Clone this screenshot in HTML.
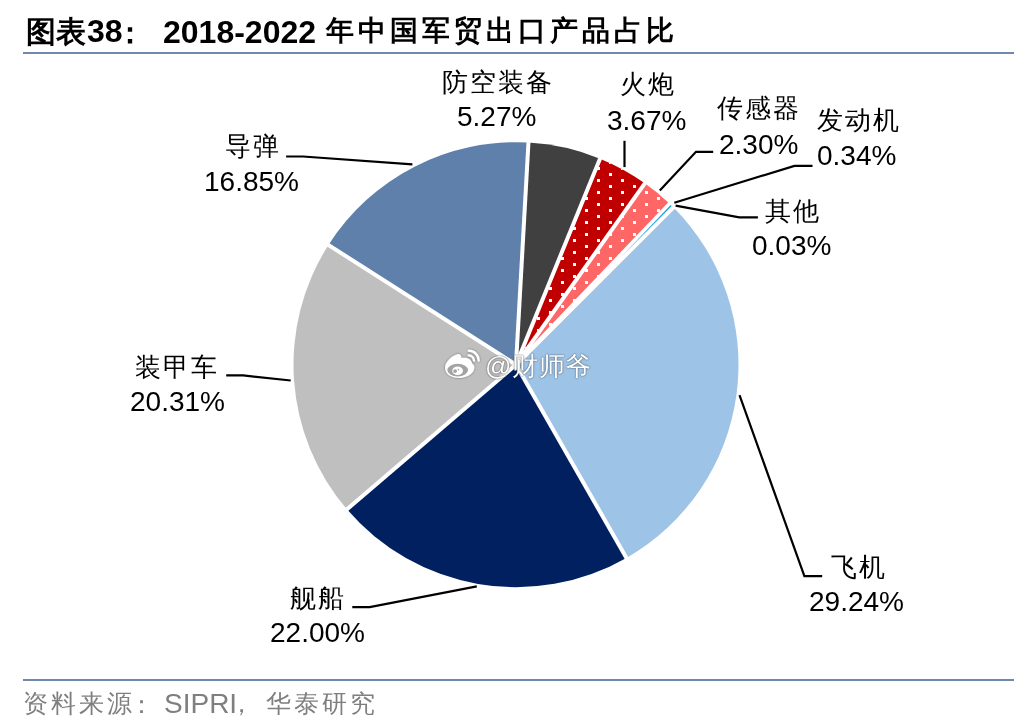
<!DOCTYPE html>
<html><head><meta charset="utf-8">
<style>
html,body{margin:0;padding:0;background:#fff;}
body{width:1036px;height:728px;position:relative;overflow:hidden;font-family:"Liberation Sans",sans-serif;}
div{position:absolute;line-height:1;white-space:nowrap;will-change:transform;}
.cn{font-size:26px;color:#000;letter-spacing:2px;}
.pc{font-size:28px;color:#000;}
.tcn{font-size:30px;font-weight:bold;color:#000;}
.tnum{font-size:32px;font-weight:bold;color:#000;}
.tcn2{font-size:28px;font-weight:bold;color:#000;letter-spacing:4px;}
.scn{font-size:25px;color:#7F7F7F;letter-spacing:3px;}
.slat{font-size:28px;color:#7F7F7F;}
.rule{left:23px;width:991px;height:2px;background:#6F89AC;}
svg{position:absolute;left:0;top:0;}
.wm{color:#fff;letter-spacing:0.6px;font-size:26px;text-shadow:0 0 2px rgba(0,0,0,.5),0 0 1px rgba(0,0,0,.45);}
</style></head><body>
<div class="rule" style="top:52px"></div>
<svg width="1036" height="728" viewBox="0 0 1036 728" style="">
<defs>
<pattern id="dots" patternUnits="userSpaceOnUse" width="24" height="12">
<rect x="9" y="5" width="3" height="3" fill="#fff"/>
<rect x="21" y="-1" width="3" height="3" fill="#fff"/>
<rect x="21" y="11" width="3" height="3" fill="#fff"/>
</pattern>
<filter id="sh" x="-20%" y="-20%" width="140%" height="140%"><feGaussianBlur in="SourceAlpha" stdDeviation="1"/><feComponentTransfer><feFuncA type="linear" slope="0.5"/></feComponentTransfer><feMerge><feMergeNode/><feMergeNode in="SourceGraphic"/></feMerge></filter>
</defs>
<path d="M516.00,364.70 L673.33,207.37 A222.5,222.5 0 0 1 626.40,557.88 Z" fill="#9DC3E6"/>
<path d="M516.00,364.70 L626.40,557.88 A222.5,222.5 0 0 1 346.95,509.36 Z" fill="#002060"/>
<path d="M516.00,364.70 L346.95,509.36 A222.5,222.5 0 0 1 328.46,244.97 Z" fill="#BFBFBF"/>
<path d="M516.00,364.70 L328.46,244.97 A222.5,222.5 0 0 1 528.45,142.55 Z" fill="#5F80AA"/>
<path d="M516.00,364.70 L528.45,142.55 A222.5,222.5 0 0 1 599.99,158.66 Z" fill="#404040"/>
<path d="M516.00,364.70 L599.99,158.66 A222.5,222.5 0 0 1 644.86,183.31 Z" fill="#C00000"/>
<path d="M516.00,364.70 L599.99,158.66 A222.5,222.5 0 0 1 644.86,183.31 Z" fill="url(#dots)"/>
<path d="M516.00,364.70 L644.86,183.31 A222.5,222.5 0 0 1 669.63,203.75 Z" fill="#FF6666"/>
<path d="M516.00,364.70 L644.86,183.31 A222.5,222.5 0 0 1 669.63,203.75 Z" fill="url(#dots)"/>
<path d="M516.00,364.70 L669.63,203.75 A222.5,222.5 0 0 1 673.03,207.07 Z" fill="#00B0F0"/>
<path d="M516.00,364.70 L673.03,207.07 A222.5,222.5 0 0 1 673.33,207.37 Z" fill="#2F5597"/>
<line x1="516.0" y1="364.7" x2="675.45" y2="205.25" stroke="#fff" stroke-width="4.0"/>
<line x1="516.0" y1="364.7" x2="627.88" y2="560.49" stroke="#fff" stroke-width="4.0"/>
<line x1="516.0" y1="364.7" x2="344.67" y2="511.31" stroke="#fff" stroke-width="4.0"/>
<line x1="516.0" y1="364.7" x2="325.93" y2="243.36" stroke="#fff" stroke-width="4.0"/>
<line x1="516.0" y1="364.7" x2="528.62" y2="139.55" stroke="#fff" stroke-width="4.0"/>
<line x1="516.0" y1="364.7" x2="601.12" y2="155.88" stroke="#fff" stroke-width="4.0"/>
<line x1="516.0" y1="364.7" x2="646.59" y2="180.86" stroke="#fff" stroke-width="4.0"/>
<line x1="516.0" y1="364.7" x2="671.70" y2="201.58" stroke="#fff" stroke-width="4.0"/>
<line x1="516.0" y1="364.7" x2="675.15" y2="204.95" stroke="#fff" stroke-width="4.0"/>
<polygon points="620.72,257.31 671.57,206.32 670.42,205.20" fill="#1FA5DC"/>
<polyline points="739.5,395.1 804.4,576.2 822.2,576.2" fill="none" stroke="#000" stroke-width="2.2" stroke-linejoin="miter"/>
<polyline points="476.8,586.3 369.7,607.1 352.3,607.1" fill="none" stroke="#000" stroke-width="2.2" stroke-linejoin="miter"/>
<polyline points="290.7,380.5 243.2,375.4 226.2,375.4" fill="none" stroke="#000" stroke-width="2.2" stroke-linejoin="miter"/>
<polyline points="412.4,164.3 303,156.5 286.1,156.5" fill="none" stroke="#000" stroke-width="2.2" stroke-linejoin="miter"/>
<polyline points="624.5,167.1 624.5,140.8" fill="none" stroke="#000" stroke-width="2.2" stroke-linejoin="miter"/>
<polyline points="659.8,190.5 696,151.8 713.2,151.8" fill="none" stroke="#000" stroke-width="2.2" stroke-linejoin="miter"/>
<polyline points="674.3,202.7 794.4,165.9 812.5,165.9" fill="none" stroke="#000" stroke-width="2.2" stroke-linejoin="miter"/>
<polyline points="675.6,205.6 739.3,217.3 757.9,217.3" fill="none" stroke="#000" stroke-width="2.2" stroke-linejoin="miter"/>
<g filter="url(#sh)">
<path d="M445,367.5 C445,362 452,355.5 457.5,354.2 C460,353.7 461.5,355.5 461.4,358.1 C464,357.6 467.5,357.8 469.2,359.1 C471,360.5 471.8,362 472.4,363.8 C474,365 474.6,366.5 474.4,368 C474,373 468,377.9 459,377.9 C451,377.9 445,374 445,367.5 Z" fill="#fff"/>
<ellipse cx="457.7" cy="370.1" rx="10.4" ry="6.3" fill="#a3a3a3"/>
<ellipse cx="457.6" cy="370.8" rx="5.4" ry="4.2" fill="#fff"/>
<circle cx="455.1" cy="371.1" r="1.9" fill="#a3a3a3"/>
<circle cx="458.3" cy="369.6" r="0.8" fill="#a3a3a3"/>
<path d="M468.7,350.7 A10,10 0 0 1 478.7,360.7" fill="none" stroke="#fff" stroke-width="2.3" stroke-linecap="round"/>
<path d="M468.7,355.4 A5.3,5.3 0 0 1 474,360.7" fill="none" stroke="#fff" stroke-width="2.3" stroke-linecap="round"/>
</g>
</svg>
<div class="cn" style="left:441.60px;top:69.20px">防空装备</div>
<div class="pc" style="left:457.00px;top:102.90px">5.27%</div>
<div class="cn" style="left:619.90px;top:71.30px">火炮</div>
<div class="pc" style="left:606.90px;top:106.50px">3.67%</div>
<div class="cn" style="left:716.80px;top:94.50px">传感器</div>
<div class="pc" style="left:718.60px;top:130.50px">2.30%</div>
<div class="cn" style="left:817.00px;top:106.90px">发动机</div>
<div class="pc" style="left:817.10px;top:141.80px">0.34%</div>
<div class="cn" style="left:765.00px;top:197.50px">其他</div>
<div class="pc" style="left:752.20px;top:231.80px">0.03%</div>
<div class="cn" style="left:224.90px;top:133.30px">导弹</div>
<div class="pc" style="left:203.90px;top:168.40px">16.85%</div>
<div class="cn" style="left:135.10px;top:353.50px">装甲车</div>
<div class="pc" style="left:129.60px;top:387.60px">20.31%</div>
<div class="cn" style="left:290.10px;top:585.10px">舰船</div>
<div class="pc" style="left:269.70px;top:619.10px">22.00%</div>
<div class="cn" style="left:830.90px;top:553.50px">飞机</div>
<div class="pc" style="left:809.40px;top:588.40px">29.24%</div>
<div class="tcn" style="left:25.50px;top:17.20px">图表</div>
<div class="tnum" style="left:87.15px;top:14.90px">38</div>
<div class="tcn" style="left:114.90px;top:18.00px">：</div>
<div class="tnum" style="left:163.20px;top:16.00px">2018-2022</div>
<div class="tcn2" style="left:326.00px;top:16.50px">年中国军贸出口产品占比</div>
<div class="scn" style="left:23.10px;top:691.00px">资料来源</div>
<div class="scn" style="left:129.45px;top:691.50px">：</div>
<div class="slat" style="left:163.60px;top:690.20px">SIPRI</div>
<div class="scn" style="left:229.20px;top:691.00px">，</div>
<div class="scn" style="left:265.50px;top:691.00px">华泰研究</div>
<div class="wm" style="left:484.5px;top:353px;">@财师爷</div>
<div class="rule" style="top:678.5px"></div>
</body></html>
